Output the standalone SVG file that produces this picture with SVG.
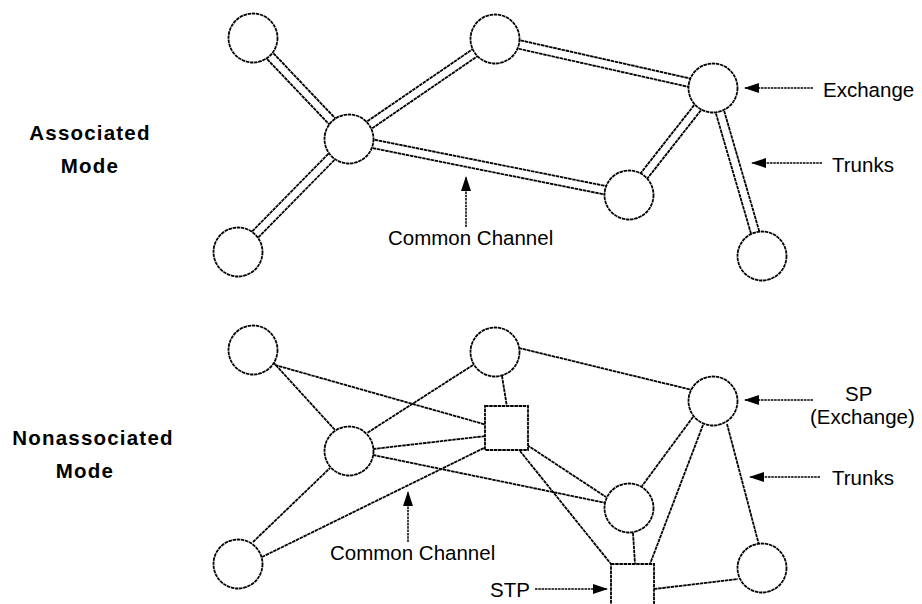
<svg xmlns="http://www.w3.org/2000/svg" width="922" height="604" viewBox="0 0 922 604">
<style>
.node{fill:#fff;stroke:#000;stroke-width:1.8;stroke-dasharray:3.5 0.7}
.ln{stroke:#000;stroke-width:1.8;stroke-dasharray:3.5 0.7;fill:none}
.tout{stroke:#000;stroke-width:10.4;stroke-dasharray:3.5 0.7;fill:none}
.tin{stroke:#fff;stroke-width:6.8;fill:none}
.arr{stroke:#000;stroke-width:1.5;stroke-dasharray:2.5 0.8;fill:none}
.lbl{font-family:"Liberation Sans",Arial,sans-serif;font-size:20.5px;fill:#000}
.mode{font-family:"Liberation Sans",Arial,sans-serif;font-size:20.5px;font-weight:bold;letter-spacing:1.2px;fill:#000;text-anchor:middle}
</style>
<defs>
<marker id="ah" markerUnits="userSpaceOnUse" markerWidth="15" markerHeight="10" refX="14" refY="5" orient="auto">
<path d="M0,0 L15,5 L0,10 Z" fill="#000"/>
</marker>
</defs>
<rect width="922" height="604" fill="#fff"/>

<g id="connectors">
<g id="top-trunks">
<path class="tout" d="M253,38 L349,139 M349,139 L495,39 M349,139 L238,252 M349,139 L629,195 M495,39 L713,88 M713,88 L629,195 M713,88 L762,256"/>
<path class="tin" d="M253,38 L349,139 M349,139 L495,39 M349,139 L238,252 M349,139 L629,195 M495,39 L713,88 M713,88 L629,195 M713,88 L762,256"/>
</g>
<g id="bottom-links">
<line class="ln" x1="273" y1="362" x2="335" y2="430"/>
<line class="ln" x1="275" y1="365" x2="487" y2="425"/>
<line class="ln" x1="473" y1="365" x2="367" y2="433"/>
<line class="ln" x1="502" y1="376" x2="507" y2="407"/>
<line class="ln" x1="373" y1="449" x2="486" y2="436"/>
<line class="ln" x1="373" y1="455" x2="606" y2="503"/>
<line class="ln" x1="253" y1="542" x2="330" y2="468"/>
<line class="ln" x1="262" y1="557" x2="486" y2="447"/>
<line class="ln" x1="519" y1="348" x2="692" y2="390"/>
<line class="ln" x1="527" y1="445" x2="606" y2="497"/>
<line class="ln" x1="520" y1="451" x2="611" y2="564"/>
<line class="ln" x1="633" y1="533" x2="635" y2="564"/>
<line class="ln" x1="693" y1="417" x2="642" y2="486"/>
<line class="ln" x1="703" y1="425" x2="650" y2="564"/>
<line class="ln" x1="727" y1="424" x2="759" y2="545"/>
<line class="ln" x1="654" y1="589" x2="738" y2="579"/>
</g>
<g id="pointers">
<line class="arr" x1="466" y1="227" x2="466" y2="177" marker-end="url(#ah)"/>
<line class="arr" x1="813" y1="88" x2="745" y2="88" marker-end="url(#ah)"/>
<line class="arr" x1="822" y1="163" x2="752" y2="163" marker-end="url(#ah)"/>
<line class="arr" x1="408" y1="542" x2="408" y2="492" marker-end="url(#ah)"/>
<line class="arr" x1="813" y1="400" x2="745" y2="400" marker-end="url(#ah)"/>
<line class="arr" x1="820" y1="477" x2="750" y2="477" marker-end="url(#ah)"/>
<line class="arr" x1="535" y1="589" x2="607" y2="589" marker-end="url(#ah)"/>
</g>
</g>

<g id="a1"><circle class="node" cx="253" cy="38" r="24.5"/></g>
<g id="a2"><circle class="node" cx="495" cy="39" r="24.5"/></g>
<g id="a3"><circle class="node" cx="349" cy="139" r="24.5"/></g>
<g id="a4"><circle class="node" cx="238" cy="252" r="24.5"/></g>
<g id="a5"><circle class="node" cx="713" cy="88" r="24.5"/></g>
<g id="a6"><circle class="node" cx="629" cy="195" r="24.5"/></g>
<g id="a7"><circle class="node" cx="762" cy="256" r="24.5"/></g>

<g id="b1"><circle class="node" cx="253" cy="350" r="24.5"/></g>
<g id="b2"><circle class="node" cx="495" cy="352" r="24.5"/></g>
<g id="b3"><circle class="node" cx="349" cy="451" r="24.5"/></g>
<g id="b4"><circle class="node" cx="238" cy="564" r="24.5"/></g>
<g id="b5"><circle class="node" cx="713" cy="401" r="24.5"/></g>
<g id="b6"><circle class="node" cx="629" cy="508" r="24.5"/></g>
<g id="b7"><circle class="node" cx="762" cy="568" r="24.5"/></g>
<g id="stp1"><rect class="node" x="485" y="406" width="43" height="44"/></g>
<g id="stp2"><rect class="node" x="611" y="564" width="43" height="46"/></g>

<g id="labels">
<text class="mode" x="90" y="140">Associated</text>
<text class="mode" x="90" y="173">Mode</text>
<text class="mode" x="93" y="445">Nonassociated</text>
<text class="mode" x="85" y="478">Mode</text>
<text class="lbl" x="388" y="245">Common Channel</text>
<text class="lbl" x="823" y="97">Exchange</text>
<text class="lbl" x="832" y="172">Trunks</text>
<text class="lbl" x="330" y="560">Common Channel</text>
<text class="lbl" x="845" y="401">SP</text>
<text class="lbl" x="810" y="424">(Exchange)</text>
<text class="lbl" x="832" y="485">Trunks</text>
<text class="lbl" x="490" y="597">STP</text>
</g>
</svg>
